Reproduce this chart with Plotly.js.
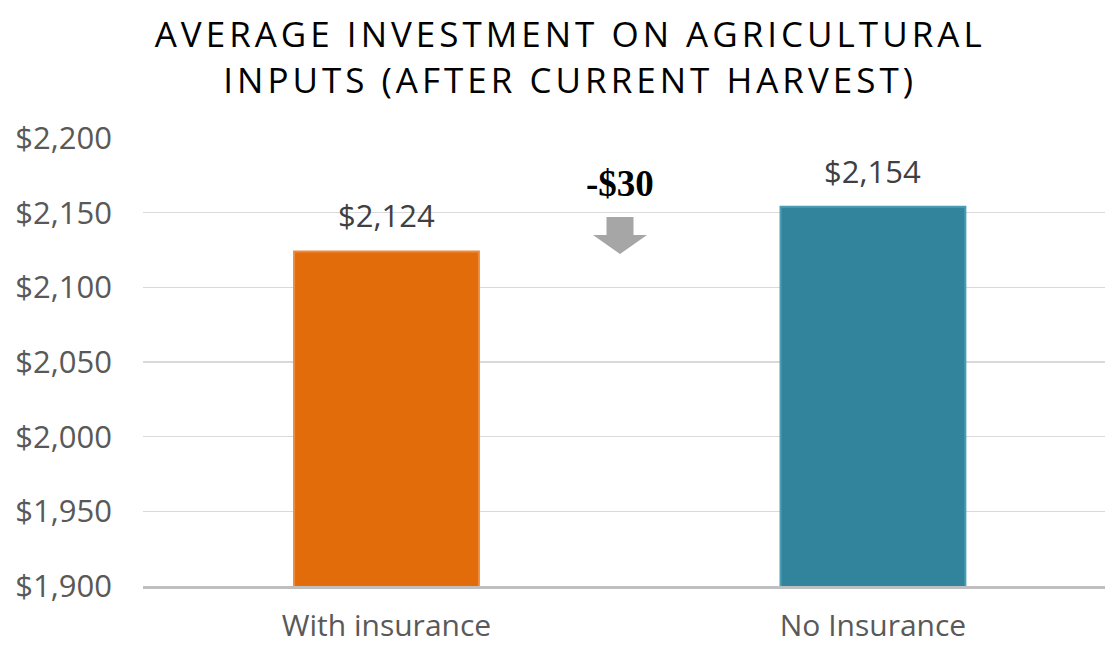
<!DOCTYPE html>
<html>
<head>
<meta charset="utf-8">
<script src="https://cdn.plot.ly/plotly-3.0.1.min.js"></script>
<style>
  html, body { margin: 0; padding: 0; background: #fff; }
  #chart { width: 1105px; height: 646px; }
  .gtitle { letter-spacing: 4px; }
</style>
</head>
<body>
<div id="chart"></div>
<script>
const categories = ["With insurance", "No Insurance"];
const values = [2124, 2154];
const barColors = ["#e36c0a", "#31849b"];
const barEdgeColors = ["#ee8a3c", "#4b9db5"];
const yTickValues = [1900, 1950, 2000, 2050, 2100, 2150, 2200];
const titleText = "AVERAGE INVESTMENT ON AGRICULTURAL<br>INPUTS (AFTER CURRENT HARVEST)";

const fmt = v => "$" + v.toLocaleString("en-US");
const diff = values[0] - values[1];
const diffText = (diff < 0 ? "-" : "+") + "$" + Math.abs(diff);

const trace = {
  type: "bar",
  x: categories,
  y: values,
  width: 0.38,
  marker: { color: barColors, line: { color: barEdgeColors, width: 2 } },
  hoverinfo: "none"
};

const W = 1105, H = 646;
const margin = { l: 143, r: 0, t: 138, b: 60 };
// arrow (decoration) in paper coordinates, centred between the bars
const pw = W - margin.l - margin.r, ph = H - margin.t - margin.b;
const px = X => (X - margin.l) / pw;
const py = Y => 1 - (Y - margin.t) / ph;
const cx = 620;
const arrowPath =
  "M " + px(cx - 13.5) + " " + py(217) +
  " L " + px(cx + 13.5) + " " + py(217) +
  " L " + px(cx + 13.5) + " " + py(235) +
  " L " + px(cx + 27) + " " + py(235) +
  " L " + px(cx) + " " + py(254) +
  " L " + px(cx - 27) + " " + py(235) +
  " L " + px(cx - 13.5) + " " + py(235) + " Z";

const annotations = categories.map((c, i) => ({
  x: c, y: values[i], xref: "x", yref: "y",
  text: fmt(values[i]), showarrow: false,
  yanchor: "bottom", yshift: 13,
  font: { family: "Open Sans", size: 31, color: "#404040" }
}));
annotations.push({
  x: px(cx), y: py(183), xref: "paper", yref: "paper",
  text: "<b>" + diffText + "</b>", showarrow: false,
  xanchor: "center", yanchor: "middle",
  font: { family: "Liberation Serif", size: 37, color: "#000000" }
});

const layout = {
  width: W, height: H,
  margin: margin,
  paper_bgcolor: "#ffffff",
  plot_bgcolor: "#ffffff",
  showlegend: false,
  title: {
    text: titleText,
    x: 0.516, xref: "container", xanchor: "center",
    y: 1 - 47 / H, yref: "container", yanchor: "top",
    font: { family: "Open Sans", size: 35, color: "#000000" }
  },
  xaxis: {
    type: "category",
    range: [-0.5005, 1.477],
    showgrid: false,
    zeroline: false,
    showline: true,
    linecolor: "#bfbfbf",
    linewidth: 3,
    ticks: "",
    ticklabelstandoff: 11,
    tickfont: { family: "Open Sans", size: 30, color: "#595959" }
  },
  yaxis: {
    range: [1900, 2200],
    tickvals: yTickValues,
    ticktext: yTickValues.map(fmt),
    showgrid: true,
    gridcolor: "#d9d9d9",
    gridwidth: 1.5,
    zeroline: false,
    showline: false,
    ticks: "",
    ticklabelstandoff: 30,
    tickfont: { family: "Open Sans", size: 31, color: "#595959" }
  },
  shapes: [{
    type: "path", xref: "paper", yref: "paper",
    path: arrowPath,
    fillcolor: "#a6a6a6", line: { width: 0 }
  }],
  annotations: annotations
};

Plotly.newPlot("chart", [trace], layout, { displayModeBar: false, staticPlot: true });
</script>
</body>
</html>
